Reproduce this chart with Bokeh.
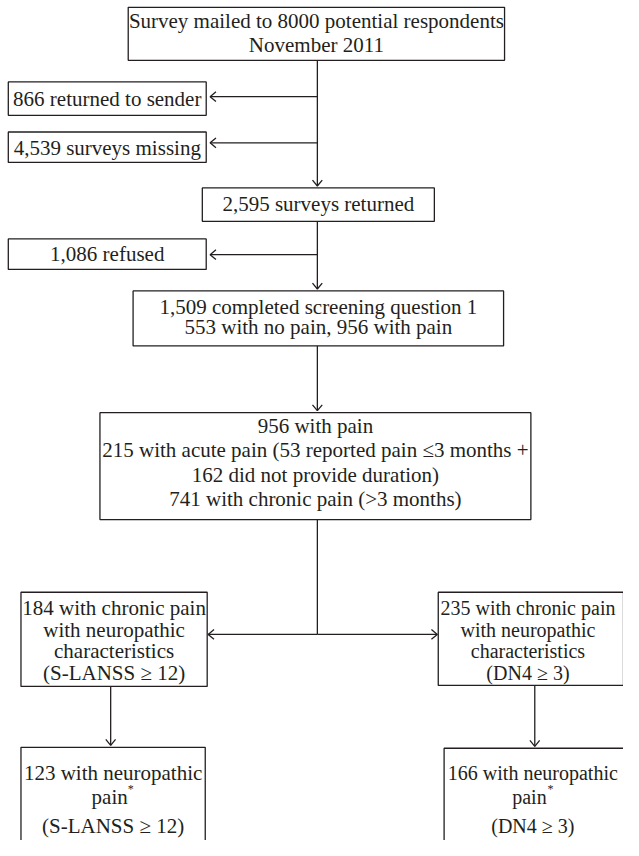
from bokeh.plotting import figure
from bokeh.models import Range1d, ColumnDataSource
from bokeh.core.properties import value
from bokeh.embed import file_html
from bokeh.resources import INLINE

# ---------------- content (flowchart labels) ----------------
top_lines = ["Survey mailed to 8000 potential respondents", "November 2011"]
returned_sender = ["866 returned to sender"]
missing = ["4,539 surveys missing"]
returned = ["2,595 surveys returned"]
refused = ["1,086 refused"]
screening = ["1,509 completed screening question 1",
             "553 with no pain, 956 with pain"]
with_pain = ["956 with pain",
             "215 with acute pain (53 reported pain \u22643 months +",
             "162 did not provide duration)",
             "741 with chronic pain (>3 months)"]
slanss_chars = ["184 with chronic pain", "with neuropathic", "characteristics", "(S-LANSS \u2265 12)"]
dn4_chars = ["235 with chronic pain", "with neuropathic", "characteristics", "(DN4 \u2265 3)"]
slanss_np = ["123 with neuropathic", "pain", "(S-LANSS \u2265 12)"]
dn4_np = ["166 with neuropathic", "pain", "(DN4 \u2265 3)"]
footnote_mark = "*"

# ---------------- layout (left, right, top, bottom, text centre x, line y's, font) ----------------
layout = [
    (top_lines,       131, 517,   7,  61, 324, [21, 45], "21px"),
    (returned_sender,   8, 211,  83, 117, 109.5, [100], "21px"),
    (missing,           8, 211, 134, 165, 109.5, [150], "21px"),
    (returned,        207, 445, 191, 225, 326, [207], "21px"),
    (refused,           8, 211, 243, 274, 109.5, [258], "21px"),
    (screening,       136, 516, 296, 352, 326, [312, 333], "21px"),
    (with_pain,       102, 544, 420, 529, 323, [434, 458, 484, 508], "21px"),
    (slanss_chars,     21, 212, 603, 699, 116.5, [619, 641, 663, 685], "21px"),
    (dn4_chars,       449, 639, 603, 698, 541, [619, 641, 663, 685], "20px"),
    (slanss_np,        21, 210, 761, 880, 115.5, [787, 812, 841], "21px"),
    (dn4_np,          455, 643, 762, 880, 546, [787, 812, 841], "20px"),
]

# arrows: start -> tip
arrows = [
    (325, 61, 325, 189),
    (325, 98, 215, 98),
    (325, 145, 215, 145),
    (325, 225, 325, 294),
    (325, 259, 215, 259),
    (325, 352, 325, 418),
    (325, 646, 213, 646),
    (325, 646, 448, 646),
    (113, 699, 113, 759),
    (548, 698, 548, 760),
]
plain_lines = [(325, 529, 325, 646)]

INK = "#231f20"
FONT = value("Liberation Serif")

p = figure(width=623, height=840, output_backend="svg", toolbar_location=None,
           x_range=Range1d(0, 639), y_range=Range1d(856, 0),
           min_border=0, background_fill_color="white", border_fill_color="white")
p.axis.visible = False
p.grid.visible = False
p.outline_line_color = None

# boxes
p.quad(left=[b[1] for b in layout], right=[b[2] for b in layout],
       top=[b[3] for b in layout], bottom=[b[4] for b in layout],
       fill_color="white", line_color=INK, line_width=1.3)

# connector lines
xs0 = [a[0] for a in arrows] + [l[0] for l in plain_lines]
ys0 = [a[1] for a in arrows] + [l[1] for l in plain_lines]
xs1 = [a[2] for a in arrows] + [l[2] for l in plain_lines]
ys1 = [a[3] for a in arrows] + [l[3] for l in plain_lines]
p.segment(x0=xs0, y0=ys0, x1=xs1, y1=ys1, line_color=INK, line_width=1.3)

# open arrowheads (computed from the arrow direction)
head_len, head_half = 6.0, 5.0
hx, hy = [], []
for x0, y0, x1, y1 in arrows:
    dx, dy = x1 - x0, y1 - y0
    n = (dx * dx + dy * dy) ** 0.5
    ux, uy = dx / n, dy / n
    px, py = -uy, ux
    bx, by = x1 - ux * head_len, y1 - uy * head_len
    hx.append([bx + px * head_half, x1, bx - px * head_half])
    hy.append([by + py * head_half, y1, by - py * head_half])
p.multi_line(xs=hx, ys=hy, line_color=INK, line_width=1.3)

# texts
tx, ty, tt, tf = [], [], [], []
sx, sy = [], []
for lines, l, r, t, b, cx, ys, fs in layout:
    for txt, yy in zip(lines, ys):
        if txt == "pain":
            tx.append(cx - 3.5)
            sx.append(cx + 15)
            sy.append(yy - 8)
        else:
            tx.append(cx)
        ty.append(yy)
        tt.append(txt)
        tf.append(fs)
src = ColumnDataSource(dict(x=tx, y=ty, text=tt, fs=tf))
p.text(x="x", y="y", text="text", source=src, text_align="center", text_baseline="middle",
       text_font=FONT, text_font_size="fs", text_color=INK)

# superscript footnote marks after "pain"
p.text(x=sx, y=sy, text=[footnote_mark] * len(sx), text_align="left",
       text_baseline="middle", text_font=FONT, text_font_size="12px", text_color=INK)

open("out.html", "w").write(file_html(p, INLINE))
